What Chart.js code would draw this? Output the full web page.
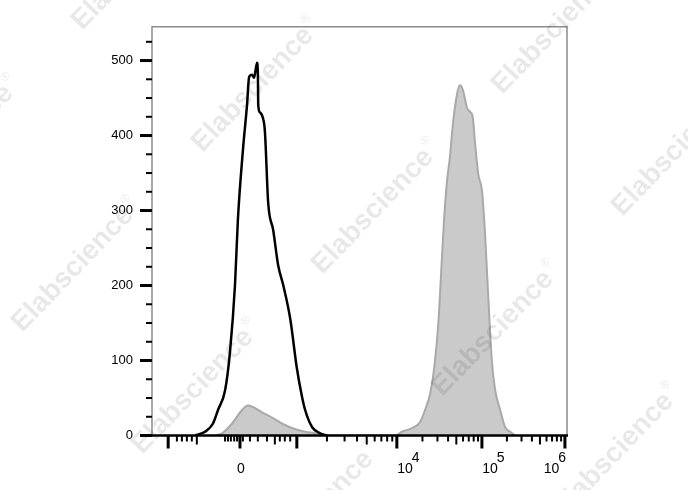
<!DOCTYPE html>
<html>
<head>
<meta charset="utf-8">
<script src="https://cdn.jsdelivr.net/npm/chart.js@4/dist/chart.umd.min.js"></script>
<style>
    html, body { margin: 0; padding: 0; background: #fff; }
    canvas { display: block; }
</style>
</head>
<body>
<canvas id="histo" width="688" height="490"></canvas>
<script>
// x = display channel on the biexponential axis (0..1000), y = cell count
const controlX = [104, 128, 147, 159, 176, 188, 200, 207, 219, 229, 234, 241, 246, 253, 255, 256, 260, 267, 272, 280, 292, 304, 316, 333, 349, 361, 369, 386, 405, 422]
const controlY = [0, 5, 16, 34, 60, 112, 201, 288, 380, 441, 478, 481, 477, 497, 485, 441, 431, 424, 406, 310, 274, 227, 201, 156, 90, 53, 34, 11, 3, 0]

const stainedX = [152, 169, 193, 217, 231, 243, 265, 289, 313, 337, 369, 393, 417, 586, 602, 627, 646, 658, 670, 680, 690, 697, 704, 711, 718, 725, 735, 742, 749, 759, 766, 773, 778, 786, 795, 802, 810, 819, 827, 839, 851, 863, 875]
const stainedY = [0, 3, 16, 34, 40, 38, 31, 24, 16, 10, 5, 3, 0, 0, 5, 10, 18, 34, 55, 90, 150, 220, 290, 340, 372, 415, 455, 467, 461, 437, 432, 424, 393, 349, 327, 274, 188, 99, 60, 34, 11, 5, 0]

// axis ticks (display channels for x)
const xMajorTicks = [39, 212, 349, 590, 795, 995]
const xTickLabels = ['', '0', '', '10', '10', '10']
const xTickExponents = ['', '', '', '4', '5', '6']
const xLinearMinor = [60, 72, 84, 96, 176, 183, 190, 198, 205, 219, 236, 255, 277, 308, 320, 333]
const xLinearMedium = [108, 296]
const yTicks = [0, 100, 200, 300, 400, 500]
const yMinorStep = 25

const FONT = '"Liberation Sans", Arial, sans-serif'

const axesPlugin = {
    id: 'axes',
    afterDatasetsDraw(chart) {
        const {ctx, chartArea: a, scales: {x, y}} = chart
        ctx.save()

        // frame
        ctx.strokeStyle = '#8c8c8c'
        ctx.lineWidth = 1.5
        ctx.beginPath()
        ctx.moveTo(a.left, a.bottom)
        ctx.lineTo(a.left, a.top)
        ctx.lineTo(a.right, a.top)
        ctx.lineTo(a.right, a.bottom)
        ctx.stroke()

        ctx.strokeStyle = '#000'
        ctx.lineWidth = 2.5
        ctx.beginPath()
        ctx.moveTo(a.left - 12, a.bottom)
        ctx.lineTo(a.right + 1, a.bottom)
        ctx.stroke()

        // y ticks
        for (let v = 0; v <= y.max; v += yMinorStep) {
            const py = y.getPixelForValue(v)
            const major = yTicks.includes(v)
            ctx.lineWidth = major ? 3 : 2
            ctx.beginPath()
            ctx.moveTo(a.left - (major ? 12 : 6), py)
            ctx.lineTo(a.left, py)
            ctx.stroke()
        }

        // x ticks
        const tick = (c, len, w) => {
            const px = x.getPixelForValue(c)
            ctx.lineWidth = w
            ctx.beginPath()
            ctx.moveTo(px, a.bottom)
            ctx.lineTo(px, a.bottom + len)
            ctx.stroke()
        }
        xLinearMinor.forEach(c => tick(c, 6, 2))
        xLinearMedium.forEach(c => tick(c, 9, 2))
        for (let d = 2; d < xMajorTicks.length - 1; d++) {
            const lo = xMajorTicks[d], hi = xMajorTicks[d + 1]
            for (let k = 2; k <= 9; k++) {
                tick(lo + Math.log10(k) * (hi - lo), k === 5 ? 9 : 6, 2)
            }
        }
        xMajorTicks.forEach(c => tick(c, 13, 3))

        // x labels
        ctx.fillStyle = '#000'
        ctx.textBaseline = 'alphabetic'
        ctx.font = '14px ' + FONT
        xMajorTicks.forEach((c, i) => {
            const base = xTickLabels[i]
            if (!base) return
            const exp = xTickExponents[i]
            const px = x.getPixelForValue(c)
            const wb = ctx.measureText(base).width
            const we = exp ? ctx.measureText(exp).width : 0
            const w = wb + we
            let cx = exp ? px + 12 : px + 1
            cx = Math.min(cx, a.right - w / 2)
            const left = cx - w / 2
            ctx.fillText(base, left, 473)
            if (exp) {
                ctx.fillText(exp, left + wb - 1, 462)
            }
        })
        ctx.restore()
    }
}

const watermarkPlugin = {
    id: 'watermark',
    afterDraw(chart) {
        const ctx = chart.ctx
        ctx.save()
        ctx.fillStyle = 'rgba(0,0,0,0.09)'
        for (let i = -1; i <= 3; i++) {
            for (let j = -1; j <= 2; j++) {
                const cx = 257 + i * 120 - j * 180
                const cy = 85 + i * 122 + j * 180
                if (cx < -130 || cx > 820 || cy < -130 || cy > 620) continue
                ctx.save()
                ctx.translate(cx, cy)
                ctx.rotate(-Math.PI / 4 - 0.02)
                ctx.font = 'bold 28px ' + FONT
                ctx.textBaseline = 'middle'
                const w = ctx.measureText('Elabscience').width
                ctx.fillText('Elabscience', -w / 2 - 6, 0)
                ctx.font = '12px ' + FONT
                ctx.fillText('®', w / 2 - 4, -11)
                ctx.restore()
            }
        }
        ctx.restore()
    }
}

new Chart(document.getElementById('histo'), {
    type: 'line',
    data: {
        datasets: [
            {
                label: 'Control',
                data: controlX.map((v, i) => ({x: v, y: controlY[i]})),
                borderColor: '#000',
                borderWidth: 2.5,
                fill: false,
                pointRadius: 0,
                cubicInterpolationMode: 'monotone',
                order: 0
            },
            {
                label: 'Stained',
                data: stainedX.map((v, i) => ({x: v, y: stainedY[i]})),
                borderColor: '#a9a9a9',
                backgroundColor: '#cacaca',
                borderWidth: 2,
                fill: 'origin',
                pointRadius: 0,
                cubicInterpolationMode: 'monotone',
                order: 1
            }
        ]
    },
    options: {
        responsive: false,
        animation: false,
        layout: {padding: {left: 0, right: 121, top: 22, bottom: 0}},
        plugins: {
            legend: {display: false},
            tooltip: {enabled: false}
        },
        scales: {
            x: {
                type: 'linear',
                min: 0,
                max: 1000,
                grid: {display: false, drawTicks: false},
                border: {display: false},
                ticks: {display: false},
                afterFit: s => { s.height = 54.5 }
            },
            y: {
                type: 'linear',
                min: 0,
                max: 545,
                grid: {display: false, drawTicks: false},
                border: {display: false},
                afterBuildTicks: s => { s.ticks = yTicks.map(v => ({value: v})) },
                ticks: {
                    padding: 19,
                    color: '#000',
                    font: {family: FONT, size: 13}
                },
                afterFit: s => { s.width = 152 }
            }
        }
    },
    plugins: [axesPlugin, watermarkPlugin]
})
</script>
</body>
</html>
